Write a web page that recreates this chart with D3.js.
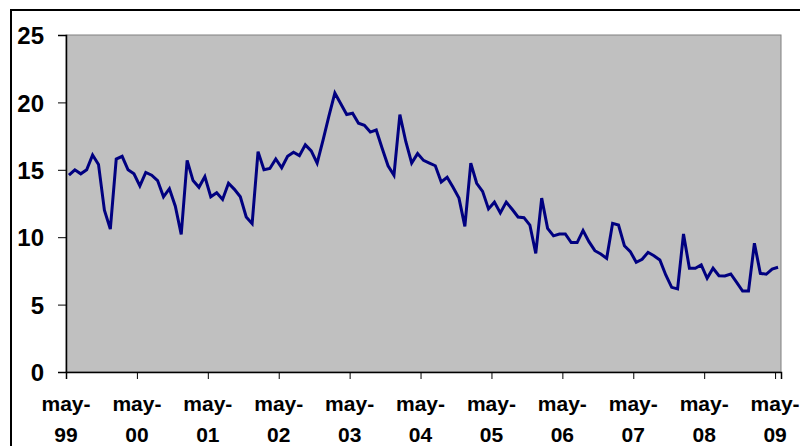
<!DOCTYPE html>
<html>
<head>
<meta charset="utf-8">
<script src="https://cdn.jsdelivr.net/npm/d3@7"></script>
<style>
  body { margin: 0; background: #fff; }
  svg text { font-family: "Liberation Sans", Arial, sans-serif; font-weight: bold; fill: #000; }
</style>
</head>
<body>
<div id="chart"></div>
<script>
// monthly values, may-99 .. may-09
var values = [
  14.6, 15.0, 14.7, 15.0, 16.1, 15.4, 12.0, 10.6, 15.8, 16.0, 15.0, 14.7,
  13.8, 14.8, 14.6, 14.2, 13.0, 13.6, 12.3, 10.2, 15.7, 14.2, 13.7, 14.5,
  13.0, 13.3, 12.8, 14.0, 13.55, 13.0, 11.5, 11.0, 16.35, 15.0, 15.1, 15.8,
  15.15, 16.0, 16.3, 16.05, 16.85, 16.4, 15.5, 17.2, 19.0, 20.7, 19.9, 19.1,
  19.2, 18.45, 18.3, 17.8, 17.95, 16.6, 15.3, 14.6, 19.1, 17.1, 15.5, 16.2,
  15.7, 15.5, 15.3, 14.1, 14.45, 13.7, 12.9, 10.8, 15.5, 14.0, 13.4, 12.1,
  12.6, 11.8, 12.6, 12.07, 11.5, 11.45, 10.9, 8.8, 12.9, 10.66, 10.1, 10.24,
  10.24, 9.6, 9.6, 10.5, 9.67, 9.0, 8.75, 8.43, 11.03, 10.9, 9.37, 8.93,
  8.14, 8.36, 8.88, 8.63, 8.31, 7.2, 6.28, 6.16, 10.24, 7.7, 7.7, 7.94,
  6.95, 7.7, 7.14, 7.12, 7.27, 6.65, 6.0, 6.0, 9.55, 7.32, 7.25, 7.64,
  7.77
];
var yearLabels = ["99", "00", "01", "02", "03", "04", "05", "06", "07", "08", "09"];
var monthLabel = "may-";
var yTicks = [0, 5, 10, 15, 20, 25];

var svgWidth = 800;
var svgHeight = 446;

var plot = { left: 66, top: 35, right: 781, bottom: 372 };

var svg = d3.select("#chart")
  .append("svg")
  .attr("width", svgWidth)
  .attr("height", svgHeight);

// outer chart border (runs off the right/bottom edge)
svg.append("rect")
  .attr("x", 11)
  .attr("y", 10)
  .attr("width", 820)
  .attr("height", 460)
  .attr("fill", "#fff")
  .attr("stroke", "#000")
  .attr("stroke-width", 2);

var x = d3.scaleLinear()
  .domain([0, values.length])
  .range([plot.left, plot.right]);

var y = d3.scaleLinear()
  .domain([0, 25])
  .range([plot.bottom, plot.top]);

// plot area
svg.append("rect")
  .attr("x", plot.left)
  .attr("y", plot.top)
  .attr("width", plot.right - plot.left)
  .attr("height", plot.bottom - plot.top)
  .attr("fill", "#c0c0c0")
  .attr("stroke", "#808080")
  .attr("stroke-width", 1);

// y axis
var leftAxis = d3.axisLeft(y)
  .tickValues(yTicks)
  .tickSize(8)
  .tickPadding(14)
  .tickFormat(d3.format("d"));

var yAxis = svg.append("g")
  .attr("transform", `translate(${plot.left}, 0)`)
  .call(leftAxis);

yAxis.select(".domain").attr("stroke", "#000").attr("stroke-width", 1.5);
yAxis.selectAll(".tick line").attr("stroke", "#000");
yAxis.selectAll(".tick text")
  .style("font-size", "24px")
  .attr("dy", "0.36em");

// x axis
var tickIdx = yearLabels.map(function(d, i) { return i * 12; });

var bottomAxis = d3.axisBottom(x)
  .tickValues(tickIdx)
  .tickSize(7)
  .tickFormat("");

var xAxis = svg.append("g")
  .attr("transform", `translate(0, ${plot.bottom})`)
  .call(bottomAxis);

xAxis.select(".domain").attr("stroke", "#000").attr("stroke-width", 1.5);
xAxis.selectAll(".tick line").attr("stroke", "#000");

var xlabels = svg.append("g");

xlabels.selectAll("text.m")
  .data(yearLabels)
  .enter()
  .append("text")
  .attr("class", "m")
  .attr("x", (d, i) => x(tickIdx[i]))
  .attr("y", 411)
  .attr("text-anchor", "middle")
  .style("font-size", "21px")
  .text(monthLabel);

xlabels.selectAll("text.yr")
  .data(yearLabels)
  .enter()
  .append("text")
  .attr("class", "yr")
  .attr("x", (d, i) => x(tickIdx[i]))
  .attr("y", 442)
  .attr("text-anchor", "middle")
  .style("font-size", "21px")
  .text(d => d);

// series line
var line = d3.line()
  .x((d, i) => x(i + 0.5))
  .y(d => y(d));

svg.append("path")
  .datum(values)
  .attr("fill", "none")
  .attr("stroke", "#000080")
  .attr("stroke-width", 3)
  .attr("stroke-linejoin", "miter")
  .attr("d", line);
</script>
</body>
</html>
